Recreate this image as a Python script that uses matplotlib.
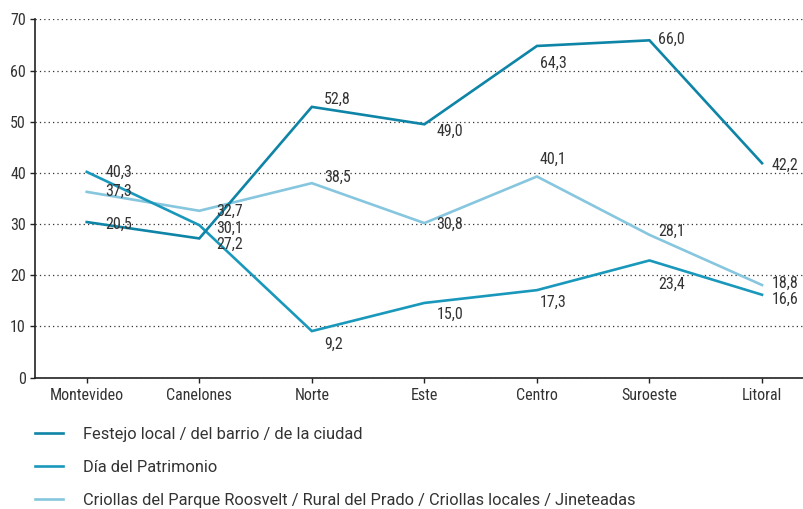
import matplotlib
matplotlib.use('Agg')
import matplotlib.pyplot as plt
from matplotlib import font_manager

REGIONS = ['Montevideo', 'Canelones', 'Norte', 'Este', 'Centro', 'Suroeste', 'Litoral']

SERIES = [
    'Festejo local / del barrio / de la ciudad',
    'Día del Patrimonio',
    'Criollas del Parque Roosvelt / Rural del Prado / Criollas locales / Jineteadas',
]

# line values
festejo = [30.4, 27.2, 52.9, 49.5, 64.8, 65.9, 41.9]
patrimonio = [40.2, 29.8, 9.1, 14.6, 17.1, 22.9, 16.2]
criollas = [36.3, 32.6, 38.0, 30.2, 39.3, 27.9, 18.1]

# printed labels (they do not always sit on their own point)
festejo_lbl = ['20,5', '27,2', '52,8', '49,0', '64,3', '66,0', '42,2']
patrimonio_lbl = ['40,3', '30,1', '9,2', '15,0', '17,3', '23,4', '16,6']
criollas_lbl = ['37,3', '32,7', '38,5', '30,8', '40,1', '28,1', '18,8']

COLORS = ['#0e84a6', '#1a98bb', '#86c6de']

# label offsets in pixels from the point (dx, dy)
DX = [19, 17, 12, 12, 3, 9, 10]
DY = [
    [-2, -6, 8, -7, -17, 1, -2],
    [0, -3, -13, -11, -12, -24, -5],
    [1, -1, 6, -1, 17, 4, 2],
]

names = set(f.name for f in font_manager.fontManager.ttflist)
fams = [f for f in ['Roboto Condensed', 'Archivo Narrow'] if f in names]
plt.rcParams['font.family'] = fams + ['DejaVu Sans']
plt.rcParams['font.size'] = 11.5
LEG_FONT = ['Roboto', 'DejaVu Sans']
TXT = '#333333'

fig = plt.figure(figsize=(8.04, 5.09), dpi=100)
ax = fig.add_axes([0.0435, 0.258, 0.9565, 0.704])

x = range(len(REGIONS))
data = [festejo, patrimonio, criollas]
labels = [festejo_lbl, patrimonio_lbl, criollas_lbl]
for s, (vals, lbls, col) in enumerate(zip(data, labels, COLORS)):
    ax.plot(x, vals, color=col, lw=1.9, label=SERIES[s], zorder=3 - s * 0.1,
            solid_joinstyle='miter')
    for i, (v, t) in enumerate(zip(vals, lbls)):
        ax.annotate(t, (i, v), xytext=(DX[i], DY[s][i]), textcoords='offset pixels',
                    ha='left', va='center', color=TXT, fontsize=11.5, zorder=5)

ax.set_ylim(0, 70)
ax.set_yticks(range(0, 71, 10))
ax.set_xlim(-0.46, 6.373)
ax.set_xticks(list(x))
ax.set_xticklabels(REGIONS)
ax.grid(axis='y', linestyle=(0, (1, 2.5)), color='#333333', lw=0.9)
ax.set_axisbelow(True)
for sp in ['top', 'right']:
    ax.spines[sp].set_visible(False)
for sp in ['left', 'bottom']:
    ax.spines[sp].set_color('#222222')
    ax.spines[sp].set_linewidth(1.2)
ax.tick_params(axis='both', colors='#222222', labelcolor=TXT, length=3.5, width=1, labelsize=11.5)
ax.tick_params(axis='x', pad=4)
ax.tick_params(axis='y', pad=3)

fig.legend(loc='upper left', bbox_to_anchor=(0.0435, 0.162), frameon=False,
           handlelength=1.7, handletextpad=1.2, labelspacing=1.1,
           prop={'family': LEG_FONT, 'size': 11.8}, labelcolor=TXT,
           borderaxespad=0, borderpad=0)

fig.savefig('out.png', dpi=100)
